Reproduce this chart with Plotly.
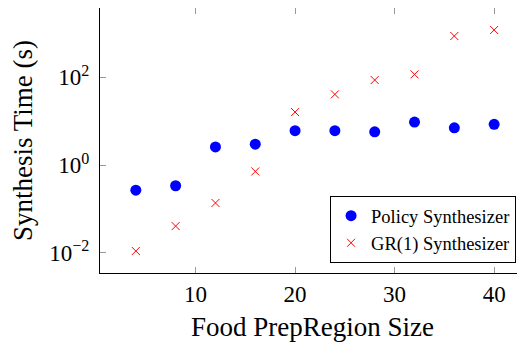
import plotly.graph_objects as go

sizes = [4, 8, 12, 16, 20, 24, 28, 32, 36, 40]
policy_time = [0.27, 0.34, 2.6, 3.0, 6.1, 6.1, 5.75, 9.6, 7.1, 8.5]
gr1_time = [0.0111, 0.041, 0.138, 0.72, 16.2, 41, 87, 117, 875, 1200]

x_ticks = [10, 20, 30, 40]
y_tickvals = [0.01, 1, 100]
y_ticktext = ["10<sup>\u22122</sup>", "10<sup>0</sup>", "10<sup>2</sup>"]

FONT = "Liberation Serif"

fig = go.Figure()
fig.add_trace(go.Scatter(
    x=sizes, y=policy_time, mode="markers", name="Policy Synthesizer",
    marker=dict(symbol="circle", size=11, color="#0000ff"),
))
fig.add_trace(go.Scatter(
    x=sizes, y=gr1_time, mode="markers", name="GR(1) Synthesizer",
    marker=dict(symbol="x-thin", size=8, color="#ff0000",
                line=dict(color="#ff0000", width=1)),
))

# page body has an 8px margin, so the figure is sized/offset to compensate
fig.update_layout(
    width=517, height=337,
    margin=dict(l=92, r=0, t=0, b=72),
    paper_bgcolor="white", plot_bgcolor="white",
    font=dict(family=FONT, color="black", size=23),
    showlegend=True,
    legend=dict(
        x=0.979, y=0.037, xanchor="right", yanchor="bottom",
        bgcolor="white", bordercolor="black", borderwidth=1,
        font=dict(family=FONT, size=18.5, color="black"),
        itemsizing="trace", tracegroupgap=0,
    ),
    xaxis=dict(
        range=[0.4, 43.1], tickvals=x_ticks, ticks="inside", ticklen=6,
        tickcolor="#999999", showline=True, linecolor="black", linewidth=1,
        mirror="ticks", showgrid=False, zeroline=False, automargin=False,
        tickfont=dict(family=FONT, size=23),
        title=dict(text="Food PrepRegion Size", font=dict(family=FONT, size=27), standoff=11),
    ),
    yaxis=dict(
        type="log", range=[-2.456, 3.58], tickvals=y_tickvals, ticktext=y_ticktext,
        ticks="inside", ticklen=6, tickcolor="#999999",
        showline=True, linecolor="black", linewidth=1, mirror="ticks",
        showgrid=False, zeroline=False, automargin=False, ticklabelstandoff=5,
        tickfont=dict(family=FONT, size=23),
        title=dict(text="Synthesis Time (s)", font=dict(family=FONT, size=27), standoff=22),
    ),
)

fig.write_html("out.html")
